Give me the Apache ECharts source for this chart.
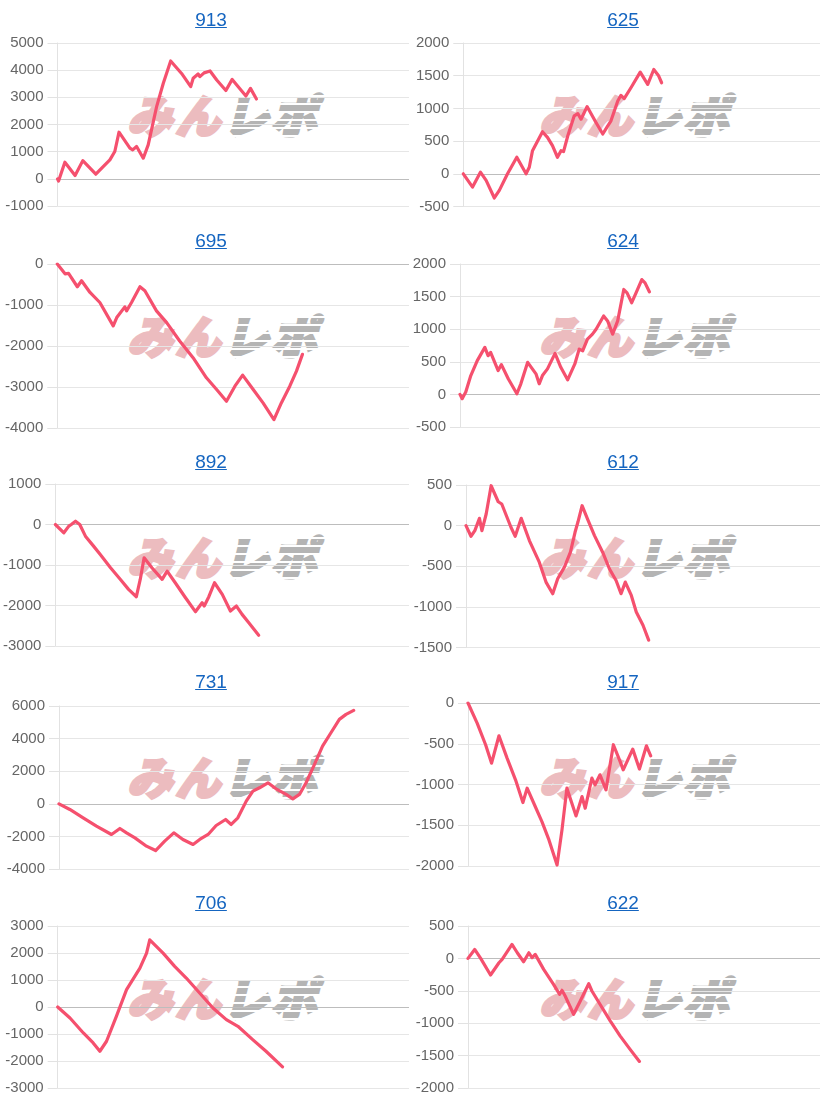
<!DOCTYPE html>
<html>
<head>
<meta charset="utf-8">
<script src="https://cdn.jsdelivr.net/npm/echarts@6/dist/echarts.min.js"></script>
<style>
  html, body { margin: 0; padding: 0; background: #fff; }
  #wrap { position: relative; width: 822px; height: 1105px; overflow: hidden; }
  #chart { position: absolute; left: 0; top: 0; width: 822px; height: 1105px; z-index: 2; }
  .ttl { position: absolute; width: 422px; text-align: center; font-family: "Liberation Sans", Arial, sans-serif;
         font-size: 19px; line-height: 22px; z-index: 3; }
  .ttl a { color: #1565c0; text-decoration: underline; }
  .wm { position: absolute; z-index: 1; white-space: nowrap; font-family: "Noto Sans CJK JP", sans-serif;
        font-weight: 900; font-size: 45px; line-height: 50px; letter-spacing: 3px; }
  .wm span { display: inline-block; transform: skewX(-14deg); position: relative; }
  .wm .p { color: #ecbcbf; -webkit-text-stroke: 3px #ecbcbf; }
  .wm .g { color: #b4b4b4; -webkit-text-stroke: 3px #b4b4b4; }
  .wm .g::after { content: ''; position: absolute; left: -4px; right: -4px; top: 0; bottom: 0;
                  background: repeating-linear-gradient(to bottom, rgba(255,255,255,0) 0px, rgba(255,255,255,0) 6px, #fff 6px, #fff 8px); }
</style>
</head>
<body>
<div id="wrap"><div id="chart"></div></div>
<script>
// ---- data ----
const titles = ['913', '625', '695', '624', '892', '612', '731', '917', '706', '622'];
const yMin  = [-1000, -500, -4000, -500, -3000, -1500, -4000, -2000, -3000, -2000];
const yMax  = [ 5000, 2000,     0, 2000,  1000,   500,  6000,     0,  3000,   500];
const yStep = [ 1000,  500,  1000,  500,  1000,   500,  2000,   500,  1000,   500];
const xProgressMax = 1000;

// [progress (0-1000), difference]
const s913 = [[0,0],[3,-80],[21,613],[50,123],[72,670],[109,170],[130,453],[149,699],[163,1005],[175,1716],[206,1130],[214,1066],[225,1189],[244,760],[258,1250],[282,2660],[301,3520],[322,4340],[353,3880],[379,3395],[386,3700],[400,3860],[405,3760],[417,3900],[434,3970],[453,3640],[479,3250],[497,3660],[536,3050],[549,3330],[566,2940]];
const s625 = [[0,0],[26,-203],[48,25],[64,-100],[87,-370],[101,-253],[124,0],[150,253],[176,0],[185,101],[194,354],[222,643],[236,557],[250,430],[264,253],[274,354],[281,339],[293,582],[311,886],[321,921],[330,835],[347,1028],[372,785],[391,608],[405,734],[414,810],[433,1114],[442,1200],[451,1149],[470,1316],[496,1554],[517,1367],[534,1595],[547,1504],[556,1392]];
const s695 = [[0,0],[22,-240],[27,-286],[32,-230],[57,-555],[69,-408],[93,-694],[121,-939],[159,-1510],[169,-1306],[192,-1045],[197,-1143],[211,-939],[235,-555],[249,-653],[282,-1143],[311,-1429],[348,-1878],[386,-2286],[424,-2776],[453,-3061],[481,-3347],[505,-2980],[527,-2710],[557,-3061],[585,-3388],[616,-3796],[637,-3388],[661,-2980],[680,-2612],[697,-2204]];
const s624 = [[0,0],[6,-66],[16,36],[30,289],[48,518],[69,721],[78,594],[85,645],[106,365],[115,457],[134,239],[158,10],[169,162],[188,492],[211,315],[220,162],[229,289],[243,391],[264,629],[280,416],[299,223],[319,467],[331,695],[341,670],[354,848],[368,924],[378,1000],[399,1203],[410,1127],[424,924],[438,1127],[455,1609],[464,1558],[477,1406],[489,1558],[505,1761],[514,1711],[526,1574]];
const s892 = [[0,0],[24,-205],[38,-41],[45,0],[57,82],[69,0],[85,-288],[108,-534],[127,-740],[156,-1068],[184,-1356],[207,-1602],[229,-1783],[240,-1356],[251,-822],[273,-1068],[302,-1356],[316,-1150],[339,-1438],[368,-1808],[396,-2153],[415,-1931],[421,-2013],[434,-1783],[450,-1438],[472,-1726],[495,-2136],[512,-2013],[528,-2219],[547,-2424],[575,-2736]];
const s612 = [[0,0],[14,-131],[25,-61],[38,90],[45,-61],[57,143],[71,491],[91,294],[101,266],[127,-20],[139,-131],[156,90],[179,-184],[207,-450],[226,-695],[245,-838],[259,-654],[278,-511],[295,-327],[308,-82],[316,41],[328,245],[344,74],[363,-123],[386,-327],[405,-531],[424,-675],[438,-838],[450,-695],[467,-859],[481,-1063],[500,-1226],[516,-1410]];
const s731 = [[0,0],[31,-348],[69,-860],[107,-1371],[150,-1883],[174,-1515],[193,-1781],[217,-2088],[250,-2600],[276,-2866],[302,-2293],[328,-1781],[354,-2190],[383,-2497],[402,-2190],[426,-1883],[449,-1331],[476,-962],[492,-1269],[511,-860],[535,164],[554,778],[573,983],[597,1290],[620,921],[649,573],[668,307],[687,573],[706,1290],[730,2416],[753,3541],[777,4360],[801,5179],[820,5486],[842,5732]];
const s917 = [[0,0],[26,-246],[50,-512],[67,-738],[88,-402],[111,-676],[135,-943],[156,-1221],[168,-1045],[191,-1270],[210,-1455],[230,-1680],[253,-1988],[267,-1557],[281,-1045],[307,-1385],[324,-1148],[333,-1291],[352,-922],[361,-1004],[375,-881],[392,-1066],[413,-512],[432,-717],[441,-820],[468,-566],[487,-811],[507,-525],[519,-648]];
const s706 = [[0,0],[35,-407],[73,-961],[101,-1331],[120,-1639],[139,-1269],[167,-345],[196,641],[234,1441],[253,1996],[262,2489],[300,1996],[333,1503],[366,1072],[404,517],[442,-37],[480,-468],[513,-715],[555,-1207],[593,-1639],[640,-2218]];
const s622 = [[0,0],[19,138],[36,0],[64,-256],[88,-67],[97,-15],[125,215],[140,87],[158,-51],[173,87],[182,10],[191,62],[215,-169],[243,-400],[260,-554],[267,-492],[276,-580],[300,-862],[319,-656],[343,-390],[352,-503],[375,-708],[404,-964],[432,-1195],[460,-1400],[487,-1590]];
const seriesData = [s913, s625, s695, s624, s892, s612, s731, s917, s706, s622];

// ---- layout ----
const rowPitch = 220.75;
const gridLeft = [57.5, 463.3, 57.3, 460, 55, 466, 59, 468, 57.7, 468];
const gridTop  = [43, 43, 264, 264, 484, 485, 706, 703, 926, 926];
const gridBottomY = [206, 206.5, 428, 427, 646, 647.5, 869, 866, 1088, 1088];
const LINE_COLOR = '#f5506e';

const wrap = document.getElementById('wrap');
titles.forEach((t, i) => {
  const col = i % 2, row = Math.floor(i / 2);
  const d = document.createElement('div');
  d.className = 'ttl';
  d.style.left = (col === 0 ? 0 : 412) + 'px';
  d.style.top = (9 + row * rowPitch) + 'px';
  d.innerHTML = '<a>' + t + '</a>';
  wrap.appendChild(d);
  const w = document.createElement('div');
  w.className = 'wm';
  w.style.left = (col === 0 ? 132 : 544) + 'px';
  w.style.top = (89 + row * rowPitch) + 'px';
  w.innerHTML = '<span class="p">みん</span><span class="g">レポ</span>';
  wrap.appendChild(w);
});

const chart = echarts.init(document.getElementById('chart'), null, { renderer: 'canvas' });
const grids = [], xAxes = [], yAxes = [], series = [];
titles.forEach((t, i) => {
  const col = i % 2;
  grids.push({
    left: gridLeft[i],
    right: col === 0 ? 822 - 409 : 2,
    top: gridTop[i],
    height: gridBottomY[i] - gridTop[i]
  });
  xAxes.push({ gridIndex: i, type: 'value', min: 0, max: xProgressMax, show: false });
  yAxes.push({
    gridIndex: i, type: 'value', min: yMin[i], max: yMax[i], interval: yStep[i],
    axisLine: { show: true, lineStyle: { color: '#e2e2e2', width: 1 } },
    axisTick: { show: true, length: 10, lineStyle: { color: '#e2e2e2' } },
    splitLine: { show: true, lineStyle: { color: '#e6e6e6', width: 1 } },
    axisLabel: { color: '#666', fontSize: 15, margin: 14, fontFamily: '"Liberation Sans", Arial, sans-serif',
                 formatter: v => String(v) }
  });
  series.push({
    type: 'line', xAxisIndex: i, yAxisIndex: i,
    data: seriesData[i], showSymbol: false, symbol: 'none', smooth: false,
    lineStyle: { color: LINE_COLOR, width: 3.2, join: 'round', cap: 'round' },
    itemStyle: { color: LINE_COLOR },
    z: 5,
    markLine: {
      silent: true, symbol: ['none', 'none'], animation: false,
      label: { show: false },
      lineStyle: { color: '#bdbdbd', width: 1, type: 'solid' },
      data: [{ yAxis: 0 }]
    }
  });
});

chart.setOption({
  animation: false,
  backgroundColor: 'transparent',
  grid: grids, xAxis: xAxes, yAxis: yAxes, series: series
});
</script>
</body>
</html>
